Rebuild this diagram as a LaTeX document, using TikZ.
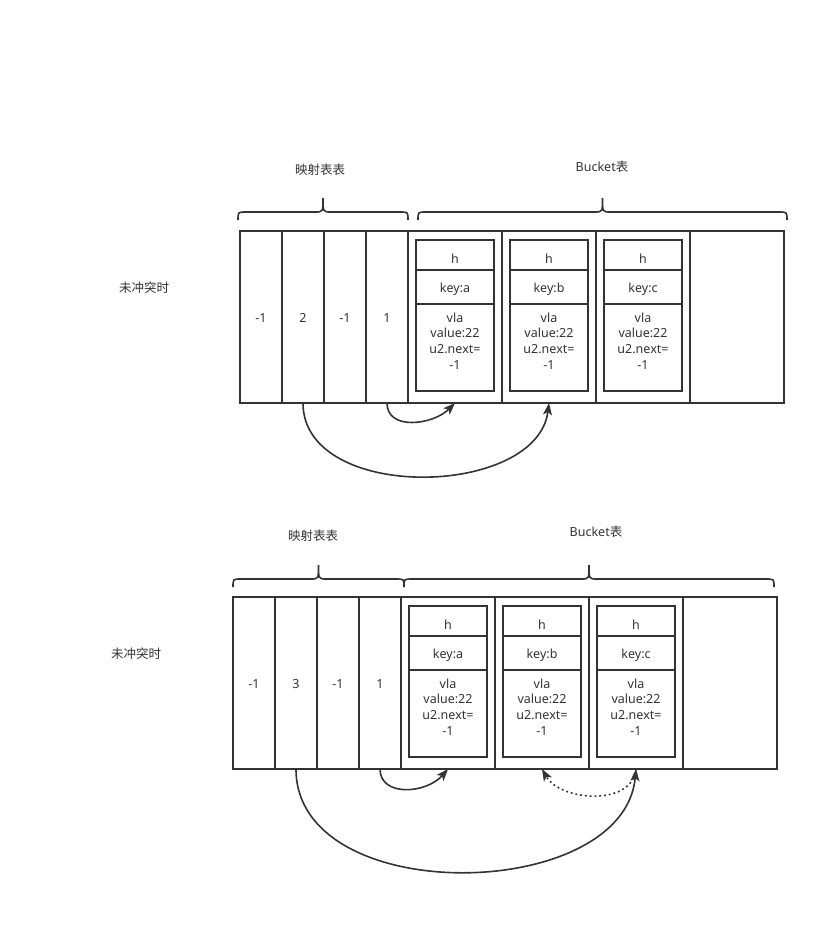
\documentclass[tikz,border=0pt]{standalone}
\usepackage{fontspec}
\setmainfont{Noto Sans}
\newfontfamily\cjk{Noto Sans CJK SC}
\usetikzlibrary{positioning,arrows.meta}

\definecolor{ink}{HTML}{333333}

\tikzset{
  every node/.style={text=ink, font=\fontsize{12.5}{15.7}\selectfont, outer sep=0pt},
  box line/.style={draw=ink, line width=2pt},
  mapcell/.style={box line, anchor=north west, minimum width=42pt, minimum height=172pt,
    inner sep=0pt, text height=10pt, text depth=0pt},
  bucketcell/.style={box line, anchor=north west, minimum width=94pt, minimum height=172pt, inner sep=0pt},
  hrow/.style={box line, minimum width=78pt, minimum height=30pt, inner sep=0pt, text height=16pt, text depth=0pt},
  keyrow/.style={box line, minimum width=78pt, minimum height=34pt, inner sep=0pt, text height=10pt, text depth=0pt},
  valrow/.style={box line, minimum width=78pt, minimum height=87pt, inner sep=0pt},
  valtext/.style={align=center, inner sep=0pt, anchor=north},
  link/.style={draw=ink, line width=1.6pt, -{Stealth[length=12pt,width=9pt,inset=3pt]}},
  brace line/.style={draw=ink, line width=1.6pt},
}

% curly brace: left x, right x, y of the ends
\newcommand{\tablebrace}[3]{%
  \pgfmathsetmacro{\bracemid}{(#1+#2)/2}
  \draw[brace line] (#1,#3) .. controls (#1,#3-8) .. (#1+8,#3-8) -- (\bracemid-8,#3-8)
    .. controls (\bracemid,#3-8) .. (\bracemid,#3-22)
    .. controls (\bracemid,#3-8) .. (\bracemid+8,#3-8) -- (#2-8,#3-8)
    .. controls (#2,#3-8) .. (#2,#3);
}

\begin{document}
\begin{tikzpicture}[x=1pt,y=-1pt]
  \useasboundingbox (0,0) rectangle (819,937);

  % both tables
  \foreach \lvl/\x/\y/\two in {t/240/231/2, b/233/597/3} {
    \foreach \i/\v in {1/-1,2/\two,3/-1,4/1}
      \node[mapcell] (\lvl map\i) at ({\x+42*(\i-1)},\y) {\v};
    \foreach \bk [count=\k from 0] in {a,b,c,d}
      \node[bucketcell] (\lvl buck\bk) at ({\x+168+94*\k},\y) {};
    \foreach \bk in {a,b,c} {
      \node[hrow, below=9pt of \lvl buck\bk.north] (\lvl h\bk) {h};
      \node[keyrow, below=0pt of \lvl h\bk] (\lvl key\bk) {key:\bk};
      \node[valrow, below=0pt of \lvl key\bk] (\lvl val\bk) {};
      \node[valtext, below=8.5pt] at (\lvl val\bk.north) {vla\\value:22\\u2.next=\\-1};
    }
  }

  % top labels
  \node (tside) at (144,287.5) {\cjk 未冲突时};
  \node (tmaplabel) at (320,170) {\cjk 映射表表};
  \node (tbucklabel) at (602,166.5) {Bucket{\cjk 表}};
  \tablebrace{238}{408}{220}
  \tablebrace{418}{787}{220}

  % bottom labels
  \node (bside) at (136,653.5) {\cjk 未冲突时};
  \node (bmaplabel) at (313,536) {\cjk 映射表表};
  \node (bbucklabel) at (596,532) {Bucket{\cjk 表}};
  \tablebrace{233}{404}{587}
  \tablebrace{404}{774}{587}

  % top links
  \draw[link] (tmap4.south) .. controls +(0,28) and +(-22,22) .. (tbucka.south);
  \draw[link] (tmap2.south) .. controls +(0,100) and +(-12,95) .. (tbuckb.south);

  % bottom links
  \draw[link] (bmap4.south) .. controls +(0,28) and +(-22,25) .. (bbucka.south);
  \draw[link] (bmap2.south) .. controls +(0,140) and +(-12,134) .. (bbuckc.south);
  \draw[link, dash pattern=on 1.8pt off 3pt] (bbuckc.south) .. controls +(-4,38) and +(18,32) .. (bbuckb.south);
\end{tikzpicture}
\end{document}
